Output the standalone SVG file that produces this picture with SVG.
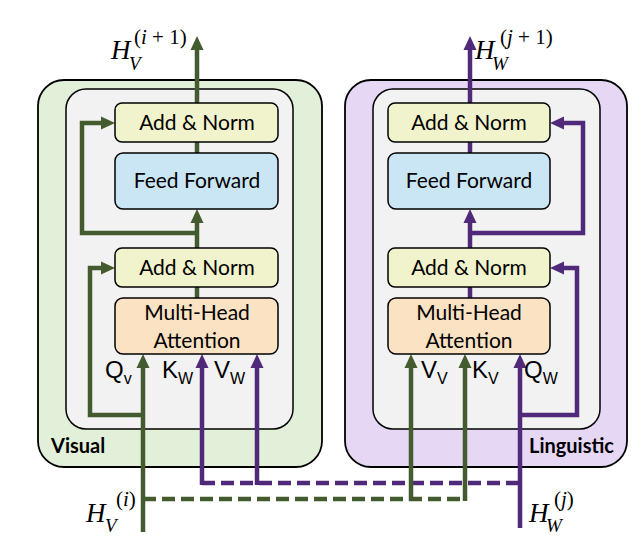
<svg xmlns="http://www.w3.org/2000/svg" width="644" height="544" viewBox="0 0 644 544">
<defs>
<style>
.outer{stroke:#000;stroke-width:1.8}
.inner{fill:#f2f2f2;stroke:#000;stroke-width:1.5}
.box{stroke:#000;stroke-width:1.5}
.an{fill:#f1f3cc}
.ff{fill:#cae5f4}
.mha{fill:#fbe2c2}
.bt{font-family:Lato,"Open Sans",sans-serif;font-size:21px;fill:#000;text-anchor:middle}
.g{fill:none;stroke:#435b2e;stroke-width:4.5}
.p{fill:none;stroke:#51297a;stroke-width:4.5}
.dash{stroke-dasharray:13 6}
.lbl{font-family:"Liberation Sans",Arial,sans-serif;font-size:24px;fill:#000}
.sub{font-size:16px}
.m{font-family:"Liberation Serif","Times New Roman",serif;fill:#000}
.it{font-style:italic}
.tag{font-family:Lato,"Open Sans",sans-serif;font-weight:bold;font-size:20px;fill:#000}
</style>
<marker id="ag" viewBox="0 0 14 14" markerWidth="14" markerHeight="14" refX="3" refY="7" orient="auto" markerUnits="userSpaceOnUse"><path d="M0,0.5 L14,7 L0,13.5 z" fill="#435b2e"/></marker>
<marker id="ap" viewBox="0 0 14 14" markerWidth="14" markerHeight="14" refX="3" refY="7" orient="auto" markerUnits="userSpaceOnUse"><path d="M0,0.5 L14,7 L0,13.5 z" fill="#51297a"/></marker>
</defs>

<g id="visual-block">
<rect class="outer" x="38" y="80" width="284" height="387" rx="26" fill="#e2efd9"/>
<rect class="inner" x="66" y="89" width="227" height="340" rx="20"/>
<text class="tag" x="51" y="453">Visual</text>
</g>
<g id="linguistic-block">
<rect class="outer" x="345" y="80" width="282" height="387" rx="26" fill="#e6d7f5"/>
<rect class="inner" x="373" y="89" width="227" height="340" rx="20"/>
<text class="tag" x="614" y="453" text-anchor="end">Linguistic</text>
</g>

<g id="connectors">
<path class="p dash" d="M202,483 H520"/>
<path class="p" d="M202,485 V365" marker-end="url(#ap)"/>
<path class="p" d="M257,485 V365" marker-end="url(#ap)"/>
<path class="p" d="M520,528 V365" marker-end="url(#ap)"/>
<path class="p" d="M520,415 H577 V268 H561" marker-end="url(#ap)"/>
<path class="g dash" d="M143,499 H465"/>
<path class="g" d="M143,532 V365" marker-end="url(#ag)"/>
<path class="g" d="M143,415 H90 V268 H104" marker-end="url(#ag)"/>
<path class="g" d="M411,501 V365" marker-end="url(#ag)"/>
<path class="g" d="M465,501 V365" marker-end="url(#ag)"/>
<path class="g" d="M197,298 V287"/>
<path class="g" d="M197,248 V220" marker-end="url(#ag)"/>
<path class="g" d="M197,153 V142"/>
<path class="g" d="M197,103 V47" marker-end="url(#ag)"/>
<path class="g" d="M197,233 H82 V123 H104" marker-end="url(#ag)"/>
<path class="p" d="M470,298 V287"/>
<path class="p" d="M470,248 V220" marker-end="url(#ap)"/>
<path class="p" d="M470,153 V142"/>
<path class="p" d="M470,103 V47" marker-end="url(#ap)"/>
<path class="p" d="M470,233 H583 V123 H561" marker-end="url(#ap)"/>
</g>

<g id="v-addnorm2"><rect class="box an" x="115" y="103" width="163" height="39" rx="7"/><text class="bt" x="197" y="130">Add &amp; Norm</text></g>
<g id="v-ff"><rect class="box ff" x="115" y="153" width="163" height="56" rx="8"/><text class="bt" x="197" y="188">Feed Forward</text></g>
<g id="v-addnorm1"><rect class="box an" x="115" y="248" width="163" height="39" rx="7"/><text class="bt" x="197" y="275">Add &amp; Norm</text></g>
<g id="v-mha"><rect class="box mha" x="115" y="298" width="163" height="56" rx="8"/><text class="bt" x="197" y="320">Multi-Head</text><text class="bt" x="197" y="348">Attention</text></g>

<g id="w-addnorm2"><rect class="box an" x="388" y="103" width="162" height="39" rx="7"/><text class="bt" x="469" y="130">Add &amp; Norm</text></g>
<g id="w-ff"><rect class="box ff" x="388" y="153" width="162" height="56" rx="8"/><text class="bt" x="469" y="188">Feed Forward</text></g>
<g id="w-addnorm1"><rect class="box an" x="388" y="248" width="162" height="39" rx="7"/><text class="bt" x="469" y="275">Add &amp; Norm</text></g>
<g id="w-mha"><rect class="box mha" x="388" y="298" width="162" height="56" rx="8"/><text class="bt" x="469" y="320">Multi-Head</text><text class="bt" x="469" y="348">Attention</text></g>

<g id="input-labels">
<text class="lbl" x="105" y="378">Q<tspan class="sub" dy="6">v</tspan></text>
<text class="lbl" x="162" y="378">K<tspan class="sub" dy="6">W</tspan></text>
<text class="lbl" x="214" y="378">V<tspan class="sub" dy="6">W</tspan></text>
<text class="lbl" x="421" y="378">V<tspan class="sub" dy="6">V</tspan></text>
<text class="lbl" x="472" y="378">K<tspan class="sub" dy="6">V</tspan></text>
<text class="lbl" x="524" y="378">Q<tspan class="sub" dy="6">W</tspan></text>
</g>

<g id="math-labels">
<text class="m it" x="111" y="59" font-size="27">H</text>
<text class="m it" x="129" y="70" font-size="19">V</text>
<text class="m" x="134" y="44" font-size="21">(<tspan class="it">i</tspan> + 1)</text>

<text class="m it" x="475" y="59" font-size="27">H</text>
<text class="m it" x="492" y="70" font-size="19">W</text>
<text class="m" x="500" y="44" font-size="21">(<tspan class="it">j</tspan> + 1)</text>

<text class="m it" x="86" y="522" font-size="27">H</text>
<text class="m it" x="105" y="532" font-size="19">V</text>
<text class="m" x="116" y="506" font-size="21">(<tspan class="it">i</tspan>)</text>

<text class="m it" x="529" y="522" font-size="27">H</text>
<text class="m it" x="546" y="532" font-size="19">W</text>
<text class="m" x="554" y="506" font-size="21">(<tspan class="it">j</tspan>)</text>
</g>
</svg>
